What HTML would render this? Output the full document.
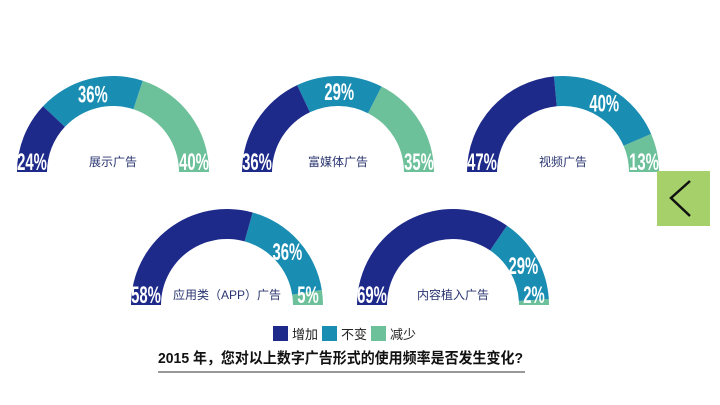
<!DOCTYPE html>
<html><head><meta charset="utf-8"><style>
body{margin:0;width:720px;height:400px;background:#fff;overflow:hidden;font-family:"Liberation Sans","Noto Sans CJK SC",sans-serif}
</style></head><body>
<svg id="s" width="720" height="400" xmlns="http://www.w3.org/2000/svg">
<rect x="657" y="171" width="53" height="55" fill="#a6d16a"/>
<polyline points="690,181 671,198 690,216" fill="none" stroke="#111" stroke-width="2.5"/>
<rect x="273" y="326" width="15" height="15" fill="#1e2a8a"/>
<text x="292" y="339" font-size="13" fill="#222">增加</text>
<rect x="322" y="326" width="15" height="15" fill="#1a8db3"/>
<text x="341" y="339" font-size="13" fill="#222">不变</text>
<rect x="371" y="326" width="15" height="15" fill="#6cc09a"/>
<text x="390" y="339" font-size="13" fill="#222">减少</text>
<text x="158" y="363" font-size="15" font-weight="bold" fill="#111" textLength="365" lengthAdjust="spacingAndGlyphs">2015 年，您对以上数字广告形式的使用频率是否发生变化?</text>
<line x1="158" y1="372" x2="525" y2="372" stroke="#333" stroke-width="1"/>
</svg>
<script>
var s=document.getElementById('s'),NS='http://www.w3.org/2000/svg';
var C=['#1e2a8a','#1a8db3','#6cc09a'];
var charts=[[113,172,[24,36,40],'展示广告'],[338,172,[36,29,35],'富媒体广告'],[563,172,[47,40,13],'视频广告'],[227,305,[58,36,5],'应用类（APP）广告'],[453,305,[69,29,2],'内容植入广告']];
var R=96,r=66;
function pt(cx,cy,rad,a){return [cx+rad*Math.cos(a),cy-rad*Math.sin(a)];}
function el(n,at,t){var e=document.createElementNS(NS,n);for(var k in at)e.setAttribute(k,at[k]);if(t)e.textContent=t;s.insertBefore(e,s.firstChild);return e;}
charts.forEach(function(c){
 var cx=c[0],cy=c[1],v=c[2],tot=v[0]+v[1]+v[2],a0=Math.PI;
 var mids=[];
 v.forEach(function(p,i){
  var a1=a0-Math.PI*p/tot;
  var A=pt(cx,cy,R,a0),B=pt(cx,cy,R,a1),D=pt(cx,cy,r,a1),E=pt(cx,cy,r,a0);
  el('path',{d:'M'+A+' A'+R+' '+R+' 0 0 1 '+B+' L'+D+' A'+r+' '+r+' 0 0 0 '+E+'Z',fill:C[i]});
  mids.push([a0,a1]);a0=a1;
 });
 var labs=[];
 labs.push([cx-R+15,cy-2]);
 var am=(mids[1][0]+mids[1][1])/2;var m=pt(cx,cy,(R+r)/2,am);labs.push([m[0],m[1]+9]);
 labs.push([cx+R-15,cy-2]);
 v.forEach(function(p,i){
  var t=el('text',{x:0,y:0,'font-size':24,'font-weight':'bold',fill:'#fff','text-anchor':'middle',transform:'translate('+labs[i][0]+','+labs[i][1]+') scale(0.62,1)'},p+'%');
  s.appendChild(t);
 });
 var t=el('text',{x:cx,y:cy-6,'font-size':12,fill:'#2a3570','text-anchor':'middle'},c[3]);s.appendChild(t);
});
</script>
</body></html>
